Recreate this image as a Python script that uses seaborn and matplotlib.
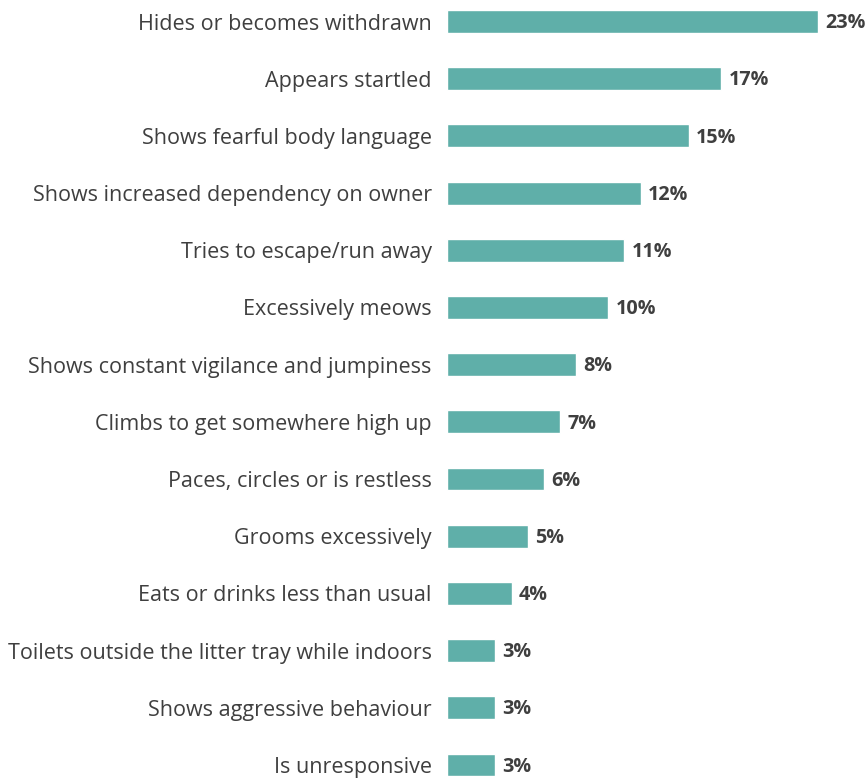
import matplotlib
matplotlib.use("Agg")
import matplotlib.pyplot as plt
import seaborn as sns
import pandas as pd

behaviours = [
    "Hides or becomes withdrawn",
    "Appears startled",
    "Shows fearful body language",
    "Shows increased dependency on owner",
    "Tries to escape/run away",
    "Excessively meows",
    "Shows constant vigilance and jumpiness",
    "Climbs to get somewhere high up",
    "Paces, circles or is restless",
    "Grooms excessively",
    "Eats or drinks less than usual",
    "Toilets outside the litter tray while indoors",
    "Shows aggressive behaviour",
    "Is unresponsive",
]
percentages = [23, 17, 15, 12, 11, 10, 8, 7, 6, 5, 4, 3, 3, 3]

BAR_COLOR = "#5fafa9"
TEXT_COLOR = "#3f3f3f"

df = pd.DataFrame({"behaviour": behaviours, "pct": percentages})

sns.set_theme(style="white")
plt.rcParams["font.family"] = ["Open Sans", "DejaVu Sans"]

fig = plt.figure(figsize=(8.68, 7.78), dpi=100)
left = 447 / 868
width = (818 - 447) / 868
bottom = 1 - 776.4 / 778
top = 1 - 10.1 / 778
ax = fig.add_axes([left, bottom, width, top - bottom])

sns.barplot(data=df, x="pct", y="behaviour", color=BAR_COLOR, width=0.4,
            saturation=1, ax=ax)

ax.set_xlim(0, 23)
ax.set_ylim(len(behaviours) - 1 + 0.2, -0.2)
ax.set_xlabel("")
ax.set_ylabel("")
ax.set_xticks([])
ax.tick_params(axis="y", length=0, pad=11, labelsize=15.5, labelcolor=TEXT_COLOR)
for s in ax.spines.values():
    s.set_visible(False)

for i, v in enumerate(percentages):
    ax.text(v + 0.45, i + 0.03, f"{v}%", va="center", ha="left", fontsize=14.2,
            fontweight="bold", color=TEXT_COLOR, clip_on=False)

fig.savefig("out.png", dpi=100)
